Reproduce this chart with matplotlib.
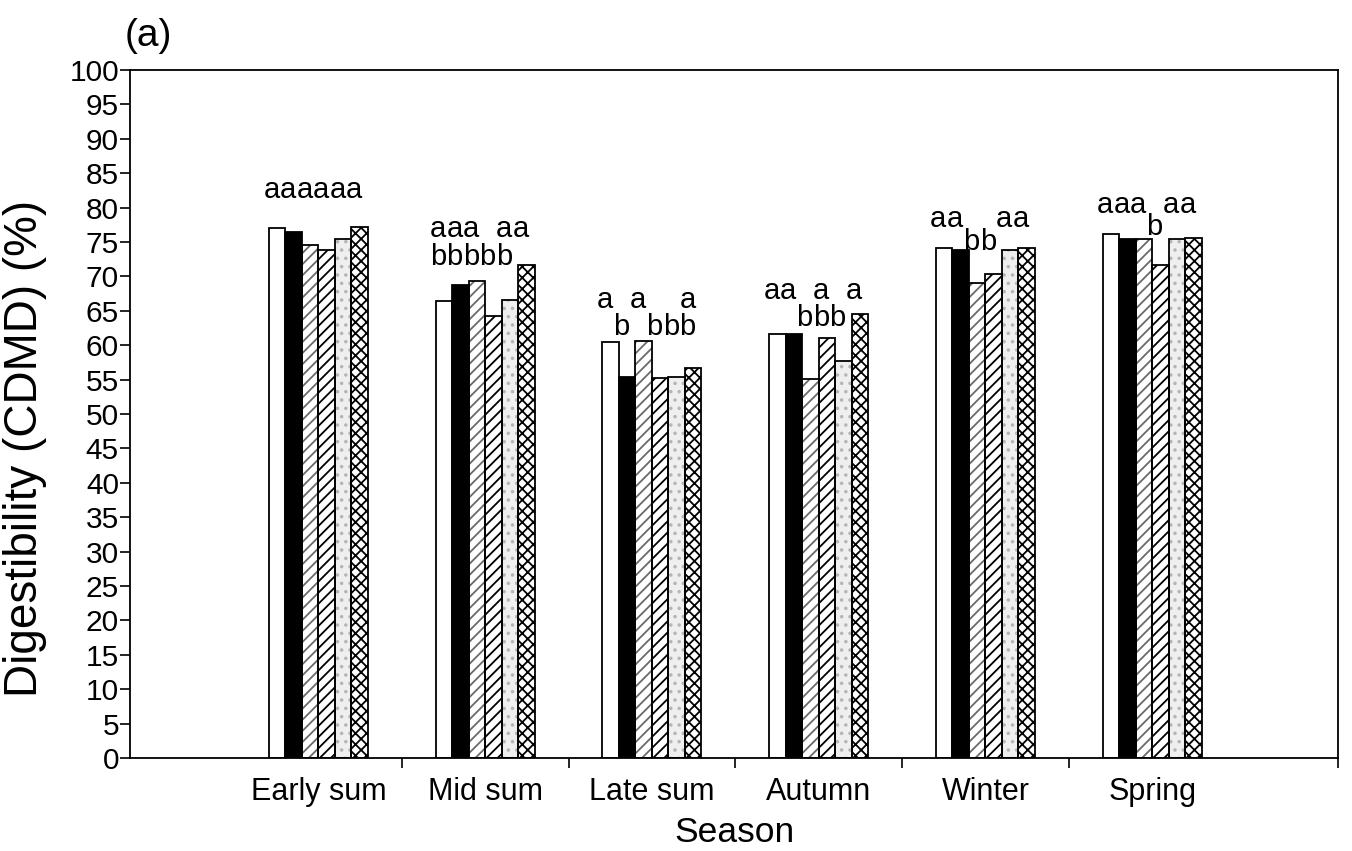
import matplotlib
matplotlib.use("Agg")
import matplotlib.pyplot as plt
import numpy as np

# Seasons and six treatment series of digestibility (CDMD, %)
seasons = ["Early sum", "Mid sum", "Late sum", "Autumn", "Winter", "Spring"]
t1 = [77.0, 66.5, 60.5, 61.6, 74.1, 76.2]
t2 = [76.4, 68.8, 55.4, 61.6, 73.9, 75.4]
t3 = [74.6, 69.4, 60.6, 55.1, 69.1, 75.4]
t4 = [73.9, 64.2, 55.2, 61.1, 70.3, 71.7]
t5 = [75.5, 66.6, 55.4, 57.7, 73.9, 75.4]
t6 = [77.2, 71.6, 56.7, 64.5, 74.1, 75.6]

# Significance letters for each bar, grouped by season
sig_early = ["a", "a", "a", "a", "a", "a"]
sig_mid = ["ab", "ab", "ab", "b", "ab", "a"]
sig_late = ["a", "b", "a", "b", "b", "ab"]
sig_autumn = ["a", "a", "b", "ab", "b", "a"]
sig_winter = ["a", "a", "b", "b", "a", "a"]
sig_spring = ["a", "a", "a", "b", "a", "a"]

series = [t1, t2, t3, t4, t5, t6]
letters = [sig_early, sig_mid, sig_late, sig_autumn, sig_winter, sig_spring]

# baseline heights of the upper ("a") and lower ("b") letter rows per season
row_a = [81.4, 75.8, 65.4, 66.7, 77.2, 79.2]
row_b = [77.0, 71.7, 61.5, 62.8, 73.8, 76.0]

plt.rcParams["font.family"] = ["Liberation Sans", "DejaVu Sans"]
plt.rcParams["hatch.linewidth"] = 1.3

fig = plt.figure(figsize=(13.52, 8.51), dpi=100)
ax = fig.add_axes([0.0962, 0.1093, 0.8934, 0.8084])

x = np.arange(len(seasons))
w = 0.099
offsets = (np.arange(6) - 2.5) * w

styles = [
    dict(facecolor="white", edgecolor="black", hatch=None),
    dict(facecolor="black", edgecolor="black", hatch=None),
    dict(facecolor="white", edgecolor="#6a6a6a", hatch="///"),
    dict(facecolor="white", edgecolor="black", hatch="///"),
    dict(facecolor="#efefef", edgecolor="#b5b5b5", hatch=".."),
    dict(facecolor="white", edgecolor="black", hatch="xxx"),
]

for vals, off, st in zip(series, offsets, styles):
    ax.bar(x + off, vals, width=w, facecolor=st["facecolor"],
           edgecolor=st["edgecolor"], hatch=st["hatch"], linewidth=0, zorder=2)
    ax.bar(x + off, vals, width=w, facecolor="none", edgecolor="black",
           linewidth=1.3, zorder=3)

shift = -0.035
for gi, sig in enumerate(letters):
    for bi, s in enumerate(sig):
        xp = x[gi] + offsets[bi] + shift
        if "a" in s:
            ax.text(xp, row_a[gi], "a", ha="center", va="baseline", fontsize=21)
        if "b" in s:
            ax.text(xp, row_b[gi], "b", ha="center", va="baseline", fontsize=21)

xl, xr = -1.130, 6.114
ax.set_xlim(xl, xr)
ax.set_ylim(0, 100)
ax.set_yticks(np.arange(0, 101, 5))
ax.tick_params(axis="y", direction="out", length=7, width=1.2, labelsize=21.5, pad=1)

ax.set_xticks(x)
ax.set_xticklabels(seasons)
ax.tick_params(axis="x", which="major", length=0, labelsize=22, pad=14)
ax.set_xticks(list(x[:-1] + 0.5) + [xr], minor=True)
ax.tick_params(axis="x", which="minor", direction="out", length=7, width=1.2)

for sp in ax.spines.values():
    sp.set_linewidth(1.3)

ax.set_xlabel("Season", fontsize=25.5, labelpad=6)
ax.set_ylabel("Digestibility (CDMD) (%)", fontsize=33)
ax.yaxis.set_label_coords(-0.0685, 0.45)
fig.text(0.0925, 0.958, "(a)", fontsize=28, ha="left", va="center")

fig.savefig("out.png", dpi=100)
